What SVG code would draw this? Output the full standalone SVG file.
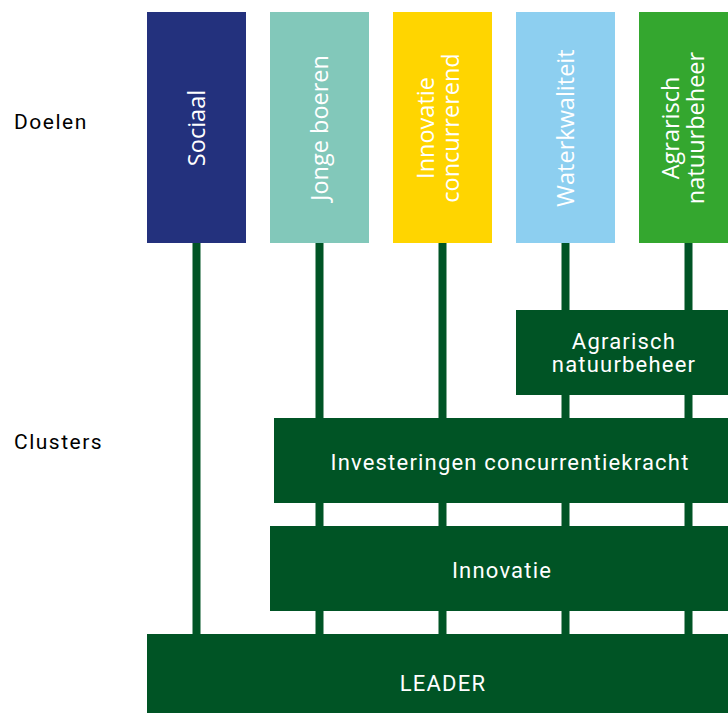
<svg xmlns="http://www.w3.org/2000/svg" width="728" height="713" viewBox="0 0 728 713">
<style>
.lbl{font-family:Roboto,"Liberation Sans",sans-serif;font-size:21px;fill:#000;letter-spacing:1.5px}
.vt{font-family:"Open Sans","DejaVu Sans",sans-serif;font-size:23.5px;fill:#fff;text-anchor:middle}
.ct{font-family:Roboto,"Liberation Sans",sans-serif;font-size:22px;fill:#fff;text-anchor:middle;letter-spacing:1.2px}
.cl{fill:#005425}
.conn{stroke:#005425;stroke-width:8;fill:none}
</style>
<rect width="728" height="713" fill="#fff"/>
<text class="lbl" x="14" y="129">Doelen</text>
<text class="lbl" x="14" y="449">Clusters</text>
<g id="connectors">
<line class="conn" x1="196.5" y1="243" x2="196.5" y2="634"/>
<line class="conn" x1="319.5" y1="243" x2="319.5" y2="634"/>
<line class="conn" x1="442.5" y1="243" x2="442.5" y2="634"/>
<line class="conn" x1="565.5" y1="243" x2="565.5" y2="634"/>
<line class="conn" x1="688.5" y1="243" x2="688.5" y2="634"/>
</g>
<g id="sociaal"><rect x="147" y="12" width="99" height="231" fill="#23317D"/><text class="vt" transform="translate(205,128) rotate(-90)">Sociaal</text></g>
<g id="jonge-boeren"><rect x="270" y="12" width="99" height="231" fill="#82C8BA"/><text class="vt" transform="translate(328,128) rotate(-90)">Jonge boeren</text></g>
<g id="innovatie-concurrerend"><rect x="393" y="12" width="99" height="231" fill="#FFD500"/><text class="vt" transform="translate(434,128) rotate(-90)">Innovatie</text><text class="vt" transform="translate(459,128) rotate(-90)">concurrerend</text></g>
<g id="waterkwaliteit"><rect x="516" y="12" width="99" height="231" fill="#8DCFF0"/><text class="vt" transform="translate(574,128) rotate(-90)">Waterkwaliteit</text></g>
<g id="agrarisch-doel"><rect x="639" y="12" width="89" height="231" fill="#34A72F"/><text class="vt" transform="translate(679,128) rotate(-90)">Agrarisch</text><text class="vt" transform="translate(704,128) rotate(-90)">natuurbeheer</text></g>
<g id="agrarisch-cluster"><rect class="cl" x="516" y="310" width="212" height="85"/><text class="ct" x="624" y="349">Agrarisch</text><text class="ct" x="624" y="372">natuurbeheer</text></g>
<g id="investeringen"><rect class="cl" x="274" y="418" width="454" height="85"/><text class="ct" x="510" y="470">Investeringen concurrentiekracht</text></g>
<g id="innovatie"><rect class="cl" x="270" y="526" width="458" height="85"/><text class="ct" x="502" y="578">Innovatie</text></g>
<g id="leader"><rect class="cl" x="147" y="634" width="581" height="79"/><text class="ct" x="443" y="691">LEADER</text></g>
</svg>
